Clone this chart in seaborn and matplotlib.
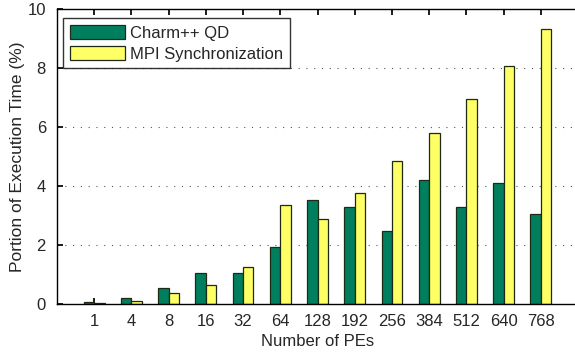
import matplotlib
matplotlib.use("Agg")
import matplotlib.pyplot as plt
import seaborn as sns
import pandas as pd

# Number of processing elements (categories on the x axis)
pes = ["1", "4", "8", "16", "32", "64", "128", "192", "256", "384", "512", "640", "768"]
# Portion of execution time (%) spent in each synchronization mechanism
charm_qd = [0.06, 0.20, 0.55, 1.06, 1.04, 1.92, 3.54, 3.30, 2.49, 4.21, 3.30, 4.09, 3.05]
mpi_sync = [0.02, 0.10, 0.37, 0.64, 1.27, 3.37, 2.89, 3.77, 4.86, 5.81, 6.96, 8.08, 9.32]
series_names = ["Charm++ QD", "MPI Synchronization"]
yticks = [0, 2, 4, 6, 8, 10]

df = pd.DataFrame({
    "PEs": pes * 2,
    "value": charm_qd + mpi_sync,
    "series": [series_names[0]] * len(pes) + [series_names[1]] * len(pes),
})

sns.set_theme(style="white")
plt.rcParams["font.family"] = ["Liberation Sans", "DejaVu Sans"]
plt.rcParams["font.size"] = 12

fig = plt.figure(figsize=(5.75, 3.52), dpi=100)
ax = fig.add_axes([57 / 575, 1 - 304 / 352, 521 / 575, 295 / 352])

palette = {series_names[0]: "#007f5f", series_names[1]: "#ffff66"}
sns.barplot(data=df, x="PEs", y="value", hue="series", order=pes,
            hue_order=series_names, palette=palette, width=0.56,
            saturation=1, edgecolor="#1e2a14", linewidth=0.9, ax=ax)

ax.set_xlim(-1, len(pes))
ax.set_ylim(0, 10)
ax.set_yticks(yticks)
ax.set_yticklabels([str(t) for t in yticks], fontsize=12)
ax.tick_params(axis="x", labelsize=12, pad=7.5)
ax.tick_params(axis="y", pad=8)
ax.set_xlabel("Number of PEs", fontsize=12, labelpad=3)
ax.set_ylabel("Portion of Execution Time (%)", fontsize=12.5, labelpad=1.5)

# dotted horizontal grid at the y ticks
for t in yticks[1:-1]:
    ax.axhline(t, color="#555555", linestyle=(0, (1, 6)), linewidth=0.8, zorder=0)
ax.set_axisbelow(True)

for s in ax.spines.values():
    s.set_color("black")
    s.set_linewidth(1.0)
ax.spines["right"].set_visible(False)
ax.tick_params(axis="both", which="both", direction="in", length=4,
               top=True, right=False, bottom=True, left=True, color="black")

leg = ax.legend(loc="upper left", frameon=True, fancybox=False, fontsize=12,
                borderpad=0.4, handlelength=3.3, handleheight=0.95,
                handletextpad=0.35, labelspacing=0.3,
                bbox_to_anchor=(6 / 521, 1 - 9 / 295), borderaxespad=0)
leg.get_frame().set_edgecolor("black")
leg.get_frame().set_linewidth(1.0)

fig.savefig("out.png", dpi=100)
